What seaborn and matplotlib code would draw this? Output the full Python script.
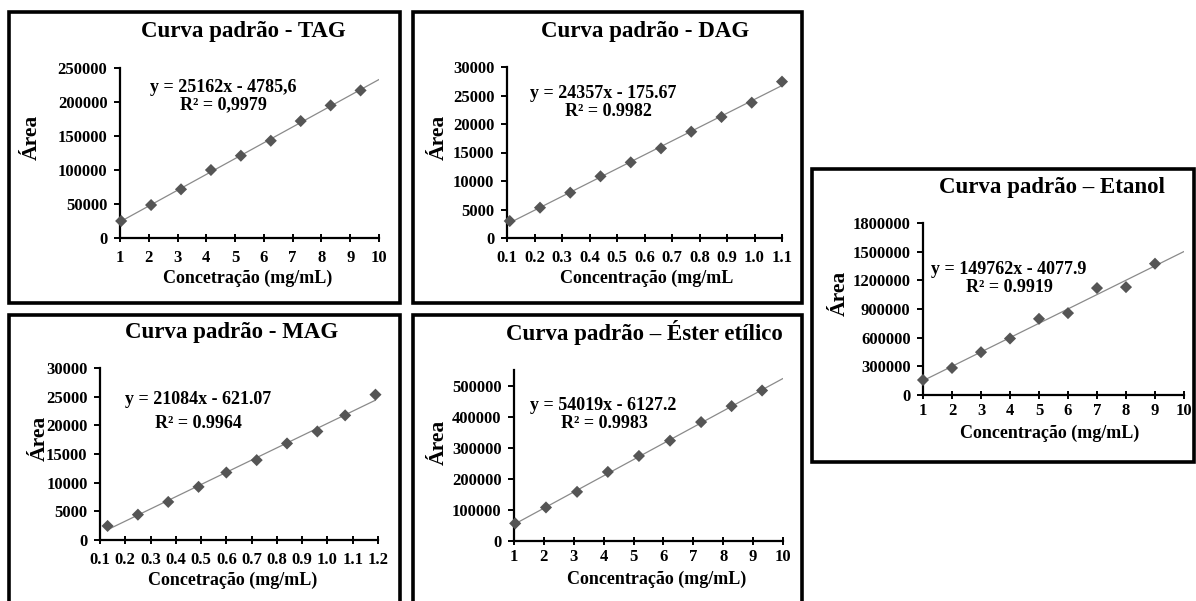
import numpy as np
import matplotlib
matplotlib.use("Agg")
import matplotlib.pyplot as plt
from matplotlib.patches import Rectangle
import seaborn as sns

# ====================== DATA ======================
tag_x = [1.04, 2.08, 3.12, 4.16, 5.20, 6.24, 7.28, 8.32, 9.36]
tag_y = [25000, 48500, 71600, 100000, 121000, 143000, 172000, 195000, 217000]

dag_x = [0.11, 0.22, 0.33, 0.44, 0.55, 0.66, 0.77, 0.88, 0.99, 1.10]
dag_y = [2980, 5320, 7950, 10820, 13270, 15730, 18650, 21230, 23740, 27430]

mag_x = [0.13, 0.25, 0.37, 0.49, 0.60, 0.72, 0.84, 0.96, 1.07, 1.19]
mag_y = [2450, 4420, 6640, 9270, 11770, 13930, 16840, 18930, 21740, 25350]

ester_x = [1.04, 2.07, 3.11, 4.14, 5.18, 6.22, 7.26, 8.28, 9.30]
ester_y = [56600, 107900, 158100, 222200, 273500, 322600, 382500, 433800, 484000]

etanol_x = [1, 2, 3, 4, 5, 6, 7, 8, 9]
etanol_y = [157000, 283000, 448000, 591000, 797000, 857000, 1119000, 1129000, 1374000]

titles = ["Curva padrão - TAG", "Curva padrão - DAG", "Curva padrão - MAG",
          "Curva padrão – Éster etílico", "Curva padrão – Etanol"]
xlabels = ["Concetração (mg/mL)", "Concentração (mg/mL", "Concetração (mg/mL)",
           "Concentração (mg/mL)", "Concentração (mg/mL)"]
equations = ["y = 25162x - 4785,6", "y = 24357x - 175.67", "y = 21084x - 621.07",
             "y = 54019x - 6127.2", "y = 149762x - 4077.9"]
r2_labels = ["R² = 0,9979", "R² = 0.9982", "R² = 0.9964", "R² = 0.9983", "R² = 0.9919"]

int_ticks = [1, 2, 3, 4, 5, 6, 7, 8, 9, 10]
dag_ticks = [0.1, 0.2, 0.3, 0.4, 0.5, 0.6, 0.7, 0.8, 0.9, 1.0, 1.1]
mag_ticks = [0.1, 0.2, 0.3, 0.4, 0.5, 0.6, 0.7, 0.8, 0.9, 1.0, 1.1, 1.2]
tag_yticks = [0, 50000, 100000, 150000, 200000, 250000]
dag_yticks = [0, 5000, 10000, 15000, 20000, 25000, 30000]
ester_yticks = [0, 100000, 200000, 300000, 400000, 500000]
etanol_yticks = [0, 300000, 600000, 900000, 1200000, 1500000, 1800000]

# ====================== STYLE ======================
sns.set_theme(style="white")
plt.rcParams["font.family"] = ["Liberation Serif", "DejaVu Serif"]
plt.rcParams["font.weight"] = "bold"
plt.rcParams["text.color"] = "black"

W, H = 1196, 601
fig = plt.figure(figsize=(W / 100, H / 100), dpi=100)
fig.patch.set_facecolor("white")


def fx(x):
    return x / W


def fy(y):
    return 1 - y / H


MARK = "#555555"
LINE = "#8a8a8a"

# panel layout in pixels: axes (l, t, r, b), box (l, t, r, b), title, ylabel, xlabel, eq, r2
panels = [
    dict(x=tag_x, y=tag_y, xlim=(1, 10), ylim=(0, 250000), xt=int_ticks, yt=tag_yticks, fmt="{:g}",
         ax=(120, 68, 379, 238), box=(9, 12, 400, 303), title=(243, 31), ylab=(32, 137),
         xlab=(248, 278), eq=(223, 87), r2=(223, 105), trunc=False, xpad=6),
    dict(x=dag_x, y=dag_y, xlim=(0.1, 1.1), ylim=(0, 30000), xt=dag_ticks, yt=dag_yticks, fmt="{:.1f}",
         ax=(507, 67, 782, 238), box=(413, 12, 802, 303), title=(645, 31), ylab=(439, 137),
         xlab=(647, 278), eq=(603, 93), r2=(608, 111), trunc=False, xpad=6),
    dict(x=mag_x, y=mag_y, xlim=(0.1, 1.2), ylim=(0, 30000), xt=mag_ticks, yt=dag_yticks, fmt="{:.1f}",
         ax=(100, 368, 378, 540), box=(9, 315, 400, 612), title=(232, 333), ylab=(40, 438),
         xlab=(233, 580), eq=(198, 400), r2=(198, 423), trunc=True, xpad=6),
    dict(x=ester_x, y=ester_y, xlim=(1, 10), ylim=(0, 550000), xt=int_ticks, yt=ester_yticks, fmt="{:g}",
         ax=(514, 370, 783, 541), box=(413, 315, 802, 612), title=(644, 333), ylab=(439, 442),
         xlab=(657, 579), eq=(603, 405), r2=(604, 423), trunc=False, xpad=3),
    dict(x=etanol_x, y=etanol_y, xlim=(1, 10), ylim=(0, 1800000), xt=int_ticks, yt=etanol_yticks, fmt="{:g}",
         ax=(923, 223, 1184, 395), box=(812, 169, 1194, 462), title=(1052, 188), ylab=(840, 293),
         xlab=(1050, 433), eq=(1009, 270), r2=(1009, 288), trunc=False, xpad=3),
]

for i, p in enumerate(panels):
    l, t, r, b = p["box"]
    fig.patches.append(Rectangle((fx(l), fy(b)), fx(r) - fx(l), fy(t) - fy(b),
                                 transform=fig.transFigure, fill=False,
                                 edgecolor="black", linewidth=2.6, clip_on=False))

    l, t, r, b = p["ax"]
    ax = fig.add_axes([fx(l), fy(b), fx(r) - fx(l), fy(t) - fy(b)])
    ax.set_facecolor("none")
    ax.set_xlim(*p["xlim"])
    ax.set_ylim(*p["ylim"])
    sns.regplot(x=np.array(p["x"]), y=np.array(p["y"]), ax=ax, ci=None, truncate=p["trunc"],
                marker="D",
                scatter_kws=dict(color=MARK, s=38, edgecolors="none", alpha=1, zorder=3, clip_on=False),
                line_kws=dict(color=LINE, lw=0.9, zorder=2))
    ax.set_xlim(*p["xlim"])
    ax.set_ylim(*p["ylim"])

    ax.set_xticks(p["xt"])
    ax.set_xticklabels([p["fmt"].format(v) for v in p["xt"]])
    ax.set_yticks(p["yt"])
    ax.set_yticklabels([str(v) for v in p["yt"]])
    ax.set_xlabel("")
    ax.set_ylabel("")
    for s in ["top", "right"]:
        ax.spines[s].set_visible(False)
    for s in ["left", "bottom"]:
        ax.spines[s].set_color("black")
        ax.spines[s].set_linewidth(1.6)
    ax.tick_params(axis="y", direction="out", length=4, width=1.4, colors="black",
                   labelsize=12, pad=5, left=True)
    ax.tick_params(axis="x", direction="inout", length=6, width=1.4, colors="black",
                   labelsize=12, pad=p["xpad"], bottom=True)
    for lab in ax.get_xticklabels() + ax.get_yticklabels():
        lab.set_fontweight("bold")

    fig.text(fx(p["title"][0]), fy(p["title"][1]), titles[i], ha="center", va="center",
             fontsize=16.5, fontweight="bold", color="black")
    fig.text(fx(p["ylab"][0]), fy(p["ylab"][1]), "Área", ha="center", va="center",
             rotation=90, fontsize=15.5, fontweight="bold", color="black")
    fig.text(fx(p["xlab"][0]), fy(p["xlab"][1]), xlabels[i], ha="center", va="center",
             fontsize=13, fontweight="bold", color="black")
    fig.text(fx(p["eq"][0]), fy(p["eq"][1]), equations[i], ha="center", va="center",
             fontsize=13, fontweight="bold", color="black")
    fig.text(fx(p["r2"][0]), fy(p["r2"][1]), r2_labels[i], ha="center", va="center",
             fontsize=13, fontweight="bold", color="black")

fig.savefig("out.png", dpi=100, facecolor="white")
